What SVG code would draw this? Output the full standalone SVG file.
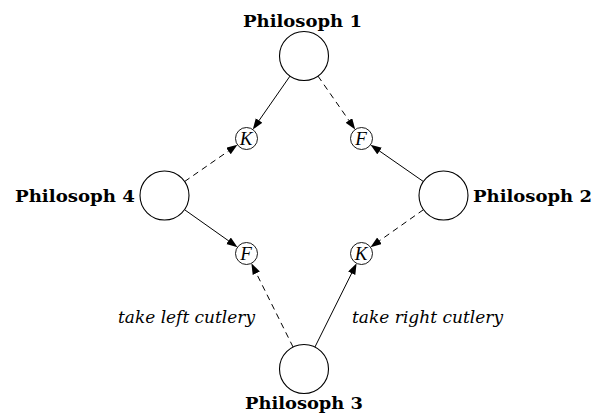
<svg xmlns="http://www.w3.org/2000/svg" width="603" height="414" viewBox="0 0 603 414">
  <style>
    .big { fill: #fff; stroke: #000; stroke-width: 1.1; }
    .small { fill: #fff; stroke: #000; stroke-width: 0.9; }
    .plabel { font-family: "DejaVu Serif", "Liberation Serif", serif; font-weight: bold; font-size: 17.5px; fill: #000; }
    .res { font-family: "Liberation Serif", "DejaVu Serif", serif; font-style: italic; font-size: 19px; fill: #000; text-anchor: middle; }
    .elabel { font-family: "DejaVu Serif", "Liberation Serif", serif; font-style: italic; font-size: 16px; fill: #000; }
    .edge { fill: none; stroke: #000; stroke-width: 1; marker-end: url(#arrow); }
    .dashed { stroke-dasharray: 6 4.5; }
  </style>
  <defs>
    <marker id="arrow" markerUnits="userSpaceOnUse" markerWidth="12" markerHeight="9" refX="7" refY="4" orient="auto">
      <path d="M0,0 L11,4 L0,8 z" fill="#000"/>
    </marker>
  </defs>

  <g id="connectors">
    <path class="edge" d="M289.99,76.10 L255.08,126.20"/>
    <path class="edge dashed" d="M318.01,76.10 L352.92,126.20"/>
    <path class="edge dashed" d="M184.62,181.52 L234.19,147.06"/>
    <path class="edge" d="M423.38,181.52 L373.81,147.06"/>
    <path class="edge" d="M184.50,209.65 L234.25,244.84"/>
    <path class="edge dashed" d="M423.50,209.65 L373.75,244.84"/>
    <path class="edge dashed" d="M293.08,347.07 L253.18,266.93"/>
    <path class="edge" d="M314.92,347.07 L354.82,266.93"/>
    <text class="elabel" x="118" y="323" textLength="137" lengthAdjust="spacingAndGlyphs">take left cutlery</text>
    <text class="elabel" x="352" y="323" textLength="151" lengthAdjust="spacingAndGlyphs">take right cutlery</text>
  </g>

  <g id="philosoph1">
    <circle class="big" cx="304" cy="56" r="24.5"/>
    <text class="plabel" x="302.5" y="27" text-anchor="middle" textLength="119" lengthAdjust="spacingAndGlyphs">Philosoph 1</text>
  </g>
  <g id="philosoph2">
    <circle class="big" cx="443.5" cy="195.5" r="24.5"/>
    <text class="plabel" x="473" y="202" textLength="119" lengthAdjust="spacingAndGlyphs">Philosoph 2</text>
  </g>
  <g id="philosoph3">
    <circle class="big" cx="304" cy="369" r="24.5"/>
    <text class="plabel" x="304" y="408.5" text-anchor="middle" textLength="118" lengthAdjust="spacingAndGlyphs">Philosoph 3</text>
  </g>
  <g id="philosoph4">
    <circle class="big" cx="164.5" cy="195.5" r="24.5"/>
    <text class="plabel" x="135" y="202" text-anchor="end" textLength="120" lengthAdjust="spacingAndGlyphs">Philosoph 4</text>
  </g>

  <g id="k1">
    <circle class="small" cx="246.5" cy="138.5" r="11"/>
    <text class="res" x="246" y="144.8">K</text>
  </g>
  <g id="f1">
    <circle class="small" cx="361.5" cy="138.5" r="11"/>
    <text class="res" x="361" y="144.8">F</text>
  </g>
  <g id="f2">
    <circle class="small" cx="246.5" cy="253.5" r="11"/>
    <text class="res" x="246" y="259.8">F</text>
  </g>
  <g id="k2">
    <circle class="small" cx="361.5" cy="253.5" r="11"/>
    <text class="res" x="361" y="259.8">K</text>
  </g>
</svg>
